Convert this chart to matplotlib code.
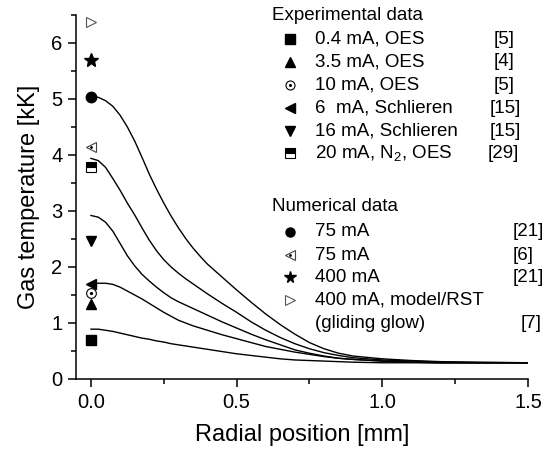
import matplotlib
matplotlib.use("Agg")
import matplotlib.pyplot as plt

plt.rcParams["font.family"] = ["Liberation Sans", "DejaVu Sans"]
plt.rcParams["mathtext.default"] = "regular"

# radial positions [mm] where the model curves were read
r = [0, 0.025, 0.05, 0.075, 0.1, 0.125, 0.15, 0.175, 0.2, 0.225, 0.25, 0.275, 0.3, 0.325,
     0.35, 0.375, 0.4, 0.45, 0.5, 0.55, 0.6, 0.65, 0.7, 0.75, 0.8, 0.85, 0.9, 1.0, 1.1,
     1.2, 1.35, 1.5]
T_c1 = [5.04, 5.03, 4.97, 4.87, 4.71, 4.50, 4.25, 3.96, 3.66, 3.39, 3.14, 2.91, 2.70, 2.51,
        2.34, 2.19, 2.05, 1.82, 1.59, 1.37, 1.16, 0.97, 0.80, 0.65, 0.54, 0.46, 0.41, 0.36,
        0.33, 0.31, 0.30, 0.29]
T_c2 = [3.94, 3.90, 3.78, 3.58, 3.37, 3.14, 2.93, 2.70, 2.48, 2.29, 2.13, 2.00, 1.89, 1.79,
        1.70, 1.61, 1.52, 1.35, 1.19, 1.02, 0.87, 0.74, 0.63, 0.54, 0.47, 0.42, 0.38, 0.34,
        0.32, 0.30, 0.29, 0.29]
T_c3 = [2.92, 2.89, 2.80, 2.64, 2.42, 2.20, 2.02, 1.87, 1.75, 1.64, 1.54, 1.45, 1.38, 1.32,
        1.26, 1.20, 1.14, 1.02, 0.91, 0.80, 0.70, 0.61, 0.52, 0.46, 0.41, 0.37, 0.35, 0.32,
        0.30, 0.29, 0.29, 0.29]
T_c4 = [1.70, 1.71, 1.71, 1.69, 1.64, 1.57, 1.50, 1.43, 1.35, 1.27, 1.19, 1.12, 1.05, 1.00,
        0.95, 0.91, 0.87, 0.79, 0.72, 0.65, 0.58, 0.53, 0.48, 0.44, 0.40, 0.37, 0.35, 0.32,
        0.30, 0.29, 0.29, 0.29]
T_c5 = [0.89, 0.89, 0.87, 0.85, 0.82, 0.79, 0.76, 0.73, 0.71, 0.68, 0.66, 0.63, 0.61, 0.59,
        0.57, 0.55, 0.53, 0.49, 0.45, 0.42, 0.39, 0.36, 0.34, 0.33, 0.32, 0.31, 0.30, 0.29,
        0.29, 0.29, 0.29, 0.29]

# point data on the axis (r = 0), kK
exp_labels = ["0.4 mA, OES", "3.5 mA, OES", "10 mA, OES", "6  mA, Schlieren",
              "16 mA, Schlieren", "20 mA, N$_2$, OES"]
exp_refs = ["[5]", "[4]", "[5]", "[15]", "[15]", "[29]"]
exp_T = [0.69, 1.34, 1.53, 1.70, 2.47, 3.79]

num_labels = ["75 mA", "75 mA", "400 mA", "400 mA, model/RST"]
num_refs = ["[21]", "[6]", "[21]", ""]
num_T = [5.04, 4.14, 5.70, 6.37]

# marker styles, in the same order as the data above
exp_style = [dict(marker="s", mfc="k", mec="k"),
             dict(marker="^", mfc="k", mec="k"),
             dict(marker="o", mfc="white", mec="k", mew=0.8),
             dict(marker="<", mfc="k", mec="k"),
             dict(marker="v", mfc="k", mec="k"),
             dict(marker="s", mfc="k", mec="k", fillstyle="top", mfcalt="white", mew=0.8)]
num_style = [dict(marker="o", mfc="k", mec="k"),
             dict(marker="<", mfc="white", mec="#444444", mew=0.8),
             dict(marker="*", mfc="k", mec="k"),
             dict(marker=">", mfc="white", mec="#555555", mew=0.8)]
dotted = [False, False, True, False, False, False]
num_dotted = [False, True, False, False]

W, H = 549, 450
fig = plt.figure(figsize=(W / 100, H / 100), dpi=100)
ax = fig.add_axes([76.4 / W, 1 - 379 / H, (528 - 76.4) / W, (379 - 15) / H])

for T in (T_c1, T_c2, T_c3, T_c4, T_c5):
    ax.plot(r, T, color="k", lw=1.0, solid_joinstyle="round", zorder=2)

for T, st, d in zip(exp_T, exp_style, dotted):
    ax.plot([0], [T], ls="none", ms=7, zorder=3, clip_on=False, **st)
    if d:
        ax.plot([0], [T], ls="none", marker="o", ms=1.3, color="k", zorder=4)
for T, st, d in zip(num_T, num_style, num_dotted):
    ms = 10 if st["marker"] == "*" else 7.5
    ax.plot([0], [T], ls="none", ms=ms, zorder=3, clip_on=False, **st)
    if d:
        ax.plot([0], [T], ls="none", marker="o", ms=1.0, color="k", zorder=4)

ax.set_xlim(-0.05, 1.5)
ax.set_ylim(0, 6.5)
ax.set_xticks([0, 0.5, 1.0, 1.5])
ax.set_xticks([0.25, 0.75, 1.25], minor=True)
ax.set_yticks(range(7))
ax.set_yticks([0.5, 1.5, 2.5, 3.5, 4.5, 5.5, 6.5], minor=True)
ax.set_xticklabels(["0.0", "0.5", "1.0", "1.5"])
ax.spines[["top", "right"]].set_visible(False)
for s in ("left", "bottom"):
    ax.spines[s].set_linewidth(1.1)
ax.tick_params(which="major", direction="out", length=6, width=1.1, labelsize=14.5, pad=4)
ax.tick_params(which="minor", direction="out", length=3.5, width=1.1)
ax.set_xlabel("Radial position [mm]", fontsize=17, labelpad=9)
ax.set_ylabel("Gas temperature [kK]", fontsize=17, labelpad=8)


# ---- hand-made legend in pixel positions ----
def fx(px):
    return px / W


def fy(py):
    return 1 - py / H


fs = 13.5
fig.text(fx(271.7), fy(15), "Experimental data", fontsize=fs, va="center", ha="left")
rows = [39.3, 61.7, 85, 108.3, 131, 153.3]
ref_x = [494, 494, 494, 490, 490, 487.7]
for i, (lab, ref) in enumerate(zip(exp_labels, exp_refs)):
    ax.plot([fx(290)], [fy(rows[i])], transform=fig.transFigure, ls="none", ms=6.5,
            clip_on=False, **exp_style[i])
    if dotted[i]:
        ax.plot([fx(290)], [fy(rows[i])], transform=fig.transFigure, ls="none",
                marker="o", ms=1.2, color="k", clip_on=False)
    fig.text(fx(315), fy(rows[i]), lab, fontsize=fs, va="center", ha="left")
    fig.text(fx(ref_x[i]), fy(rows[i]), ref, fontsize=fs, va="center", ha="left")

fig.text(fx(271.7), fy(206.7), "Numerical data", fontsize=fs, va="center", ha="left")
nrows = [231.7, 255, 277.3, 300]
for i, (lab, ref) in enumerate(zip(num_labels, num_refs)):
    ms = 8.5 if num_style[i]["marker"] == "*" else 6.5
    ax.plot([fx(290)], [fy(nrows[i])], transform=fig.transFigure, ls="none", ms=ms,
            clip_on=False, **num_style[i])
    if num_dotted[i]:
        ax.plot([fx(290)], [fy(nrows[i])], transform=fig.transFigure, ls="none",
                marker="o", ms=1.0, color="k", clip_on=False)
    fig.text(fx(315), fy(nrows[i]), lab, fontsize=fs, va="center", ha="left")
    if ref:
        fig.text(fx(512.7), fy(nrows[i]), ref, fontsize=fs, va="center", ha="left")
fig.text(fx(315), fy(323.3), "(gliding glow)", fontsize=fs, va="center", ha="left")
fig.text(fx(521), fy(323.3), "[7]", fontsize=fs, va="center", ha="left")

fig.savefig("out.png", dpi=100)
